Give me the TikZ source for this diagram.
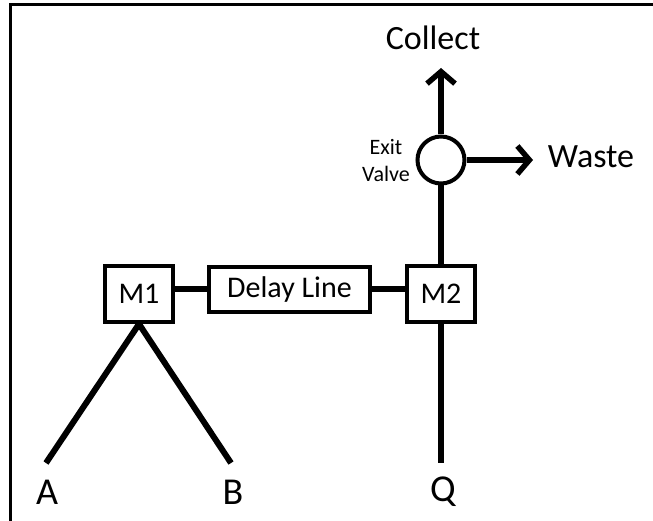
\documentclass[tikz,border=0pt]{standalone}
\usepackage{fontspec}
\setmainfont{Carlito}
\usetikzlibrary{arrows.meta}
\pgfdeclarelayer{bg}
\pgfsetlayers{bg,main}
\begin{document}
\begin{tikzpicture}[x=1pt,y=-1pt,
  box/.style={draw,line width=4pt,fill=white,inner sep=0pt,font=\fontsize{30}{34}\selectfont},
  conn/.style={line width=6pt},
  arr/.style={line width=5.5pt,-{Straight Barb[length=12pt,width=28pt]}},
  big/.style={font=\fontsize{34}{40}\selectfont,inner sep=0pt},
  lbl/.style={font=\fontsize{38}{44}\selectfont,inner sep=0pt}]
\useasboundingbox (0,0) rectangle (653,521);
% frame
\draw[line width=3pt,line join=miter] (10.5,521) -- (10.5,4.5) -- (653,4.5);
% coordinates
\coordinate (Aend) at (46,463);
\coordinate (Bend) at (231,463);
\coordinate (Qend) at (441,463);
\coordinate (Ctip) at (441,68);
\coordinate (Wtip) at (533,160);
% nodes
\node[box,minimum width=68pt,minimum height=56pt] (M1) at (139,294) {M1};
\node[box,minimum width=161pt,minimum height=45pt] (DL) at (289.5,289.5) {Delay Line};
\node[box,minimum width=68pt,minimum height=56pt] (M2) at (441,294) {M2};
\node[circle,draw,line width=4pt,fill=white,minimum size=47pt,inner sep=0pt] (EV) at (441,160) {};
\node[align=center,inner sep=0pt,font=\fontsize{22}{27}\selectfont] (EVt) at (386,161) {Exit\\Valve};
\node[big] (Col) at (433,38) {Collect};
\node[big] (Was) at (591,157) {Waste};
\node[lbl] (A) at (47,492) {A};
\node[lbl] (B) at (233,492) {B};
\node[lbl] (Q) at (443,492) {Q};
% connectors
\begin{pgfonlayer}{bg}
\draw[conn,line join=miter] (Aend) -- (M1.south) -- (Bend);
\draw[conn] (M1.east |- DL.west) -- (DL.west);
\draw[conn] (DL.east) -- (DL.east -| M2.west);
\draw[conn] (M2.north) -- (EV.south);
\draw[conn] (M2.south) -- (Qend);
\end{pgfonlayer}
\draw[arr] (EV.north) -- (Ctip);
\draw[arr] (EV.east) -- (Wtip);
\end{tikzpicture}
\end{document}
